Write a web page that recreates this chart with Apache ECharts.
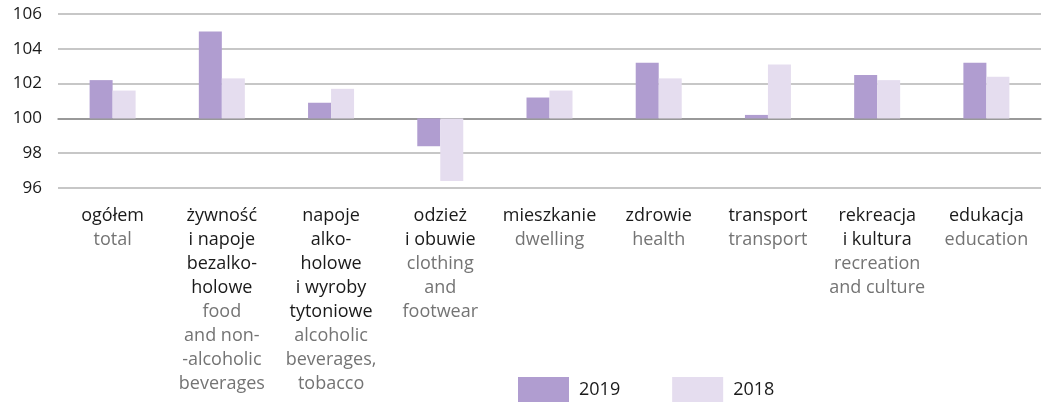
<!DOCTYPE html>
<html>
<head>
<meta charset="utf-8">
<script src="https://cdn.jsdelivr.net/npm/echarts@6/dist/echarts.min.js"></script>
<style>
  html, body { margin: 0; padding: 0; background: #ffffff; }
  #chart { width: 1043px; height: 402px; }
</style>
</head>
<body>
<div id="chart"></div>
<script>
// Price indices by COICOP group (previous year = 100)
const categoriesPl = [
  ['ogółem'],
  ['żywność', 'i napoje', 'bezalko-', 'holowe'],
  ['napoje', 'alko-', 'holowe', 'i wyroby', 'tytoniowe'],
  ['odzież', 'i obuwie'],
  ['mieszkanie'],
  ['zdrowie'],
  ['transport'],
  ['rekreacja', 'i kultura'],
  ['edukacja']
];
const categoriesEn = [
  ['total'],
  ['food', 'and non-', '-alcoholic', 'beverages'],
  ['alcoholic', 'beverages,', 'tobacco'],
  ['clothing', 'and', 'footwear'],
  ['dwelling'],
  ['health'],
  ['transport'],
  ['recreation', 'and culture'],
  ['education']
];
const values2019 = [102.2, 105.0, 100.9, 98.4, 101.2, 103.2, 100.2, 102.5, 103.2];
const values2018 = [101.6, 102.3, 101.7, 96.4, 101.6, 102.3, 103.1, 102.2, 102.4];
const yTicks = [96, 98, 100, 102, 104, 106];

// Bars grow from the index base of 100, so the axis is plotted relative to it
const BASE = 100;
const rel = arr => arr.map(v => +(v - BASE).toFixed(2));

const FONT = '"Open Sans", "Noto Sans", sans-serif';
const labels = categoriesPl.map((pl, i) =>
  pl.map(t => '{pl|' + t + '}').concat(categoriesEn[i].map(t => '{en|' + t + '}')).join('\n')
);

const chart = echarts.init(document.getElementById('chart'), null, { renderer: 'canvas' });
chart.setOption({
  animation: false,
  backgroundColor: '#ffffff',
  textStyle: { fontFamily: FONT },
  grid: { left: 58, right: 2, top: 14, bottom: 214, containLabel: false },
  legend: {
    left: 518,
    bottom: 0,
    padding: 0,
    itemWidth: 51,
    itemHeight: 25,
    itemGap: 52,
    icon: 'rect',
    textStyle: { fontFamily: FONT, fontSize: 18, color: '#1a1a1a', padding: [0, 0, 0, 5] },
    data: ['2019', '2018']
  },
  xAxis: {
    type: 'category',
    data: labels,
    axisLine: { onZero: true, lineStyle: { color: '#8a8a8a', width: 1.5 } },
    axisTick: { show: false },
    axisLabel: {
      interval: 0,
      margin: 16,
      lineHeight: 24,
      fontFamily: FONT,
      rich: {
        pl: { fontSize: 18, color: '#1a1a1a', lineHeight: 24, fontFamily: FONT },
        en: { fontSize: 18, color: '#747474', lineHeight: 24, fontFamily: FONT }
      }
    }
  },
  yAxis: {
    type: 'value',
    min: yTicks[0] - BASE,
    max: yTicks[yTicks.length - 1] - BASE,
    interval: 2,
    axisLine: { show: false },
    axisTick: { show: false },
    splitLine: { lineStyle: { color: '#b4b4b4', width: 1.5 } },
    axisLabel: {
      margin: 16,
      fontSize: 17,
      color: '#1a1a1a',
      fontFamily: FONT,
      formatter: v => String(v + BASE)
    }
  },
  series: [
    {
      name: '2019',
      type: 'bar',
      data: rel(values2019),
      barWidth: 23,
      barGap: '0%',
      itemStyle: { color: '#b09dd0' }
    },
    {
      name: '2018',
      type: 'bar',
      data: rel(values2018),
      barWidth: 23,
      barGap: '0%',
      itemStyle: { color: '#e5ddef' }
    }
  ]
});
</script>
</body>
</html>
